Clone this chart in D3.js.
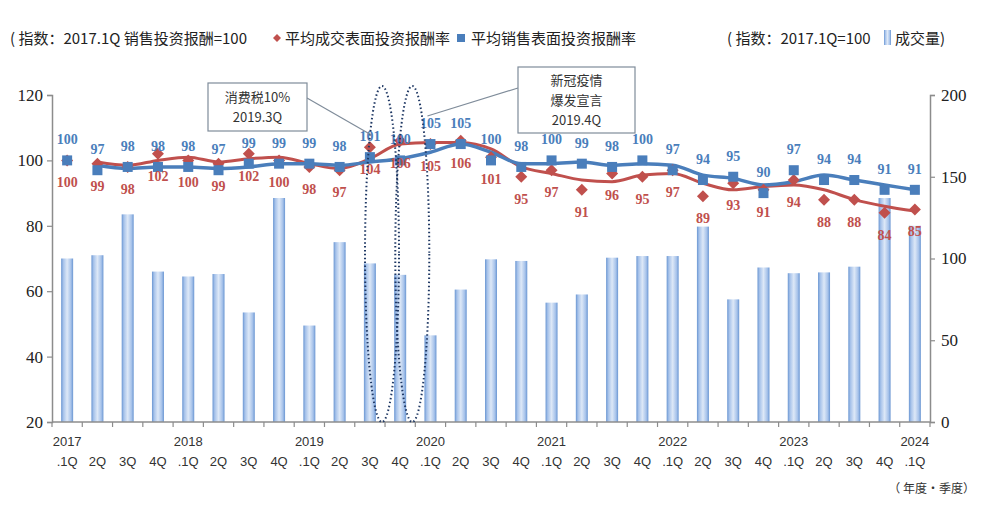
<!DOCTYPE html>
<html><head><meta charset="utf-8">
<script src="https://cdn.jsdelivr.net/npm/d3@7"></script>
<style>body{margin:0;background:#fff}svg{display:block}</style>
</head><body><svg id="c" width="983" height="529"></svg>
<script>
const quarters = [".1Q","2Q","3Q","4Q",".1Q","2Q","3Q","4Q",".1Q","2Q","3Q","4Q",".1Q","2Q","3Q","4Q",".1Q","2Q","3Q","4Q",".1Q","2Q","3Q","4Q",".1Q","2Q","3Q","4Q",".1Q"];
const years = ["2017","","","","2018","","","","2019","","","","2020","","","","2021","","","","2022","","","","2023","","","","2024"];
const volume = [100,102,127,92,89,90.5,67,137,59,110,97,90,53,81,99.5,98.5,73,78,100.5,101.5,101.5,119.5,75,94.5,91,91.5,95,137,120];
const dealYield = [100,99,98,102,100,99,102,100,98,97,104,106,105,106,101,95,97,91,96,95,97,89,93,91,94,88,88,84,85];
const saleYield = [100,97,98,98,98,97,99,99,99,98,101,100,105,105,100,98,100,99,98,100,97,94,95,90,97,94,94,91,91];
const dealTrend = [null,99.5,98.5,100,101,99.5,100.5,101,99,97.5,100.5,105,105.5,105.5,103.5,98,96,94,93.5,95.5,96,93,91,92,92.5,91,88,86,84.5];
const saleTrend = [null,98.5,97.5,98,98,97.5,98,99,99,98.5,99.5,100.5,102.5,105,102.5,99,99,99.5,98.5,99,98.5,95.5,94.5,92.5,93.5,95.5,94,92.5,91];
const leftTicks = [20,40,60,80,100,120];
const rightTicks = [0,50,100,150,200];
const events = [{idx:10, text:["消费税10%","2019.3Q"]},{idx:11, text:["新冠疫情","爆发宣言","2019.4Q"]}];

const svg = d3.select("#c");
const L = 52, R = 930, T = 95, B = 422;
const idx = d3.range(quarters.length);
const x = d3.scaleBand().domain(idx).range([L, R]).padding(0);
const cx = i => x(i) + x.bandwidth()/2;
const yL = d3.scaleLinear().domain([20,120]).range([B, T]);
const yR = d3.scaleLinear().domain([0,200]).range([B, T]);
const RED = "#c0504d", BLUE = "#4a7ebb", AX = "#8c8c8c";
const SERIF = "'Times New Roman','Liberation Serif',Times,serif";

// gradient for bars
const defs = svg.append("defs");
const g = defs.append("linearGradient").attr("id","bg").attr("x1","0").attr("x2","1").attr("y1","0").attr("y2","0");
g.append("stop").attr("offset","0").attr("stop-color","#6a96d2");
g.append("stop").attr("offset","0.18").attr("stop-color","#a6c2ea");
g.append("stop").attr("offset","0.5").attr("stop-color","#dde8f7");
g.append("stop").attr("offset","0.82").attr("stop-color","#a6c2ea");
g.append("stop").attr("offset","1").attr("stop-color","#6a96d2");

// bars
const bw = 12;
svg.append("g").selectAll("rect").data(volume).join("rect")
  .attr("x",(d,i)=>cx(i)-bw/2).attr("width",bw)
  .attr("y",d=>yR(d)).attr("height",d=>B-yR(d))
  .attr("fill","url(#bg)");

// axes
const axL = svg.append("g").attr("transform",`translate(${L},0)`)
  .call(d3.axisLeft(yL).tickValues(leftTicks).tickSize(5).tickPadding(4));
const axR = svg.append("g").attr("transform",`translate(${R},0)`)
  .call(d3.axisRight(yR).tickValues(rightTicks).tickSize(5).tickPadding(6));
[axL,axR].forEach(a=>{
  a.attr("font-family",SERIF);
  a.select(".domain").attr("stroke",AX).attr("stroke-width",1.5);
  a.selectAll(".tick line").attr("stroke",AX).attr("stroke-width",1.2);
  a.selectAll(".tick text").style("font-family",SERIF).attr("font-size",17).attr("fill","#222");
});
const axB = svg.append("g").attr("transform",`translate(0,${B})`);
axB.append("line").attr("x1",L).attr("x2",R).attr("stroke",AX).attr("stroke-width",1.5);
axB.selectAll("line.t").data(d3.range(quarters.length+1)).join("line").attr("class","t")
  .attr("x1",i=>L+i*x.step()).attr("x2",i=>L+i*x.step()).attr("y1",0).attr("y2",5)
  .attr("stroke",AX).attr("stroke-width",1.2);
axB.selectAll("text.y").data(years).join("text").attr("class","y")
  .attr("x",(d,i)=>cx(i)).attr("y",24).attr("text-anchor","middle")
  .attr("font-family","'Liberation Sans',Arial,sans-serif").attr("font-size",13).attr("fill","#333").text(d=>d);
axB.selectAll("text.q").data(quarters).join("text").attr("class","q")
  .attr("x",(d,i)=>cx(i)).attr("y",44).attr("text-anchor","middle")
  .attr("font-family","'Liberation Sans',Arial,sans-serif").attr("font-size",13).attr("fill","#333").text(d=>d);

// trend lines
const line = d3.line().defined(d=>d[1]!=null).x(d=>cx(d[0])).y(d=>yL(d[1])).curve(d3.curveMonotoneX);
svg.append("path").datum(dealTrend.map((v,i)=>[i,v])).attr("d",line)
  .attr("fill","none").attr("stroke",RED).attr("stroke-width",3);
svg.append("path").datum(saleTrend.map((v,i)=>[i,v])).attr("d",line)
  .attr("fill","none").attr("stroke",BLUE).attr("stroke-width",3.5);

// markers
svg.append("g").selectAll("path").data(dealYield).join("path")
  .attr("d","M0,-6L6,0L0,6L-6,0Z").attr("transform",(d,i)=>`translate(${cx(i)},${yL(d)})`).attr("fill",RED);
svg.append("g").selectAll("rect").data(saleYield).join("rect")
  .attr("x",(d,i)=>cx(i)-5).attr("y",d=>yL(d)-5).attr("width",10).attr("height",10).attr("fill",BLUE);

// data labels
svg.append("g").selectAll("text").data(saleYield).join("text")
  .attr("x",(d,i)=>cx(i)).attr("y",d=>yL(d)-16).attr("text-anchor","middle")
  .style("font-family",SERIF).attr("font-weight","bold").attr("font-size",14).attr("fill",BLUE).text(d=>d);
svg.append("g").selectAll("text").data(dealYield).join("text")
  .attr("x",(d,i)=>cx(i)).attr("y",d=>yL(d)+27).attr("text-anchor","middle")
  .style("font-family",SERIF).attr("font-weight","bold").attr("font-size",14).attr("fill",RED).text(d=>d);

// dotted ellipses
events.forEach(e=>{
  const ex = x(e.idx) + x.step()*0.9;
  svg.append("ellipse").attr("cx",ex).attr("cy",(86+B)/2).attr("rx",17).attr("ry",(B-86)/2)
    .attr("fill","none").attr("stroke","#1f3864").attr("stroke-width",2).attr("stroke-dasharray","1.5,2.5");
});

// annotation boxes
const boxes = [
  {x:208,y:83,w:99,h:48,lines:events[0].text,lx1:307,ly1:98,lx2:x(events[0].idx)+x.step()*0.55,ly2:135},
  {x:518,y:67,w:117,h:66,lines:events[1].text,lx1:518,ly1:88,lx2:x(events[1].idx)+x.step()*1.4,ly2:116}
];
boxes.forEach(b=>{
  svg.append("line").attr("x1",b.lx1).attr("y1",b.ly1).attr("x2",b.lx2).attr("y2",b.ly2).attr("stroke","#7f8c9a").attr("stroke-width",1.2);
  svg.append("rect").attr("x",b.x).attr("y",b.y).attr("width",b.w).attr("height",b.h).attr("fill","#fff").attr("stroke","#7f8c9a").attr("stroke-width",1.2);
  const t = svg.append("text").attr("text-anchor","middle").attr("font-family","'Noto Sans CJK SC',sans-serif").attr("font-size",13).attr("fill","#333");
  b.lines.forEach((s,k)=>t.append("tspan").attr("x",b.x+b.w/2).attr("y",b.y+b.h/2-(b.lines.length-1)*10+k*20+5).text(s));
});

// legend
const LF = "'Noto Sans CJK SC',sans-serif";
svg.append("text").attr("x",10).attr("y",44).attr("font-family",LF).attr("font-size",15).attr("fill","#222").text("( 指数：2017.1Q 销售投资报酬=100");
svg.append("path").attr("d","M0,-4L4,0L0,4L-4,0Z").attr("transform","translate(277,38)").attr("fill",RED);
svg.append("text").attr("x",285).attr("y",44).attr("font-family",LF).attr("font-size",15).attr("fill","#222").text("平均成交表面投资报酬率");
svg.append("rect").attr("x",457).attr("y",34).attr("width",8).attr("height",8).attr("fill",BLUE);
svg.append("text").attr("x",471).attr("y",44).attr("font-family",LF).attr("font-size",15).attr("fill","#222").text("平均销售表面投资报酬率");
svg.append("text").attr("x",727).attr("y",44).attr("font-family",LF).attr("font-size",15).attr("fill","#222").text("( 指数：2017.1Q=100");
svg.append("rect").attr("x",884).attr("y",30).attr("width",7).attr("height",15).attr("fill","url(#bg)");
svg.append("text").attr("x",895).attr("y",44).attr("font-family",LF).attr("font-size",15).attr("fill","#222").text("成交量)");
svg.append("text").attr("x",975).attr("y",493).attr("text-anchor","end").attr("font-family",LF).attr("font-size",12).attr("fill","#333").text("（ 年度·季度）");
</script></body></html>
